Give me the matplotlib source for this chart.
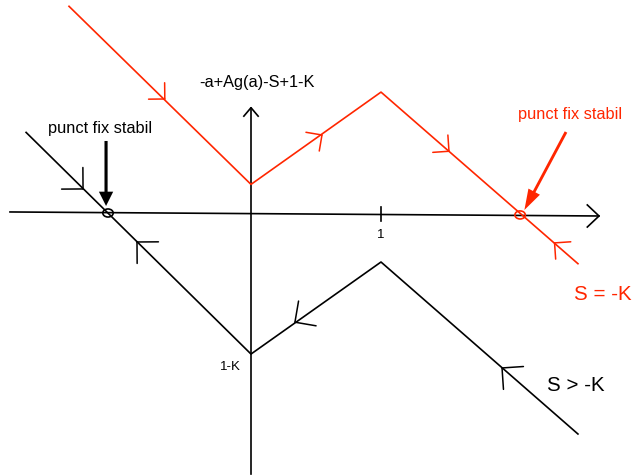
import numpy as np
import matplotlib
matplotlib.use("Agg")
import matplotlib.pyplot as plt
from matplotlib.patches import Ellipse

plt.rcParams["font.family"] = ["Liberation Sans", "DejaVu Sans"]

RED = "#ff2600"

# piecewise-linear map, one curve per value of S (x, y in units of a)
RED_X = [-1.40, 0.0, 1.0, 2.515]
RED_Y = [1.59, 0.22, 0.93, -0.39]
BLACK_X = [-1.73, 0.0, 1.0, 2.515]
BLACK_Y = [0.62, -1.085, -0.377, -1.70]

# direction arrows on the curves: (x, y of tip, segment index, +1 forward / -1 backward)
RED_ARROWS = [(-0.663, 0.877, 0, 1), (0.546, 0.60, 1, 1), (1.523, 0.475, 2, 1), (2.335, -0.23, 2, -1)]
BLACK_ARROWS = [(-1.292, 0.185, 0, 1), (-0.877, -0.223, 0, -1), (0.338, -0.84, 1, -1), (1.931, -1.192, 2, -1)]

# fixed points (intersection with the horizontal axis)
FIXED_BLACK = (-1.10, 0.0)
FIXED_RED = (2.07, -0.015)

AXIS_X = [-1.854, 2.677]
AXIS_XY = [0.008, -0.023]
AXIS_Y = [-2.01, 0.81]


def chevron(ax, x, y, xs, ys, seg, sign, color, size):
    d = np.array([xs[seg + 1] - xs[seg], ys[seg + 1] - ys[seg]]) * sign
    d = d / np.hypot(*d)
    back = np.arctan2(-d[1], -d[0])
    for off in (np.pi / 4, -np.pi / 4):
        a = back + off
        ax.plot([x, x + size * np.cos(a)], [y, y + size * np.sin(a)],
                color=color, lw=1.1, solid_capstyle="round")


fig = plt.figure(figsize=(6.33, 4.77), dpi=100)
ax = fig.add_axes([0, 0, 1, 1])
ax.set_xlim(-251 / 130, 382 / 130)
ax.set_ylim(-263 / 130, 214 / 130)
ax.set_aspect("equal")
ax.axis("off")

# axes
ax.plot(AXIS_X, AXIS_XY, color="black", lw=1.2)
ax.plot([0, 0], AXIS_Y, color="black", lw=1.2)
tx, ty = AXIS_X[1], AXIS_XY[1]
ax.plot([tx - 0.09, tx, tx - 0.09], [ty + 0.085, ty, ty - 0.085], color="black", lw=1.2)
ax.plot([-0.055, 0, 0.055], [AXIS_Y[1] - 0.065, AXIS_Y[1], AXIS_Y[1] - 0.065], color="black", lw=1.2)
ax.plot([1, 1], [0.046, -0.06], color="black", lw=1.2)
ax.text(1, -0.16, "1", fontsize=9.5, ha="center", va="center")
ax.text(-0.16, -1.177, "1-K", fontsize=9.5, ha="center", va="center")
ax.text(0.046, 1.015, "-a+Ag(a)-S+1-K", fontsize=11.8, ha="center", va="center")

# curves
ax.plot(RED_X, RED_Y, color=RED, lw=1.2)
ax.plot(BLACK_X, BLACK_Y, color="black", lw=1.2)
for x, y, seg, sgn in RED_ARROWS:
    chevron(ax, x, y, RED_X, RED_Y, seg, sgn, RED, 0.125)
for x, y, seg, sgn in BLACK_ARROWS:
    chevron(ax, x, y, BLACK_X, BLACK_Y, seg, sgn, "black", 0.165)

# fixed points
ax.add_patch(Ellipse(FIXED_BLACK, 0.08, 0.062, fill=False, ec="black", lw=1.2, zorder=4))
ax.add_patch(Ellipse(FIXED_RED, 0.08, 0.062, fill=False, ec=RED, lw=1.2, zorder=4))

ax.arrow(-1.115, 0.554, 0, -0.50, width=0.024, head_width=0.11, head_length=0.11,
         length_includes_head=True, color="black", lw=0)
ax.arrow(2.423, 0.623, -0.32, -0.60, width=0.022, head_width=0.10, head_length=0.16,
         length_includes_head=True, color=RED, lw=0)
ax.text(-1.162, 0.654, "punct fix stabil", fontsize=11.8, ha="center", va="center")
ax.text(2.454, 0.769, "punct fix stabil", fontsize=11.8, ha="center", va="center", color=RED)

ax.text(2.71, -0.623, "S = -K", fontsize=14.8, ha="center", va="center", color=RED)
ax.text(2.50, -1.32, "S > -K", fontsize=14.8, ha="center", va="center")

fig.savefig("out.png", dpi=100)
